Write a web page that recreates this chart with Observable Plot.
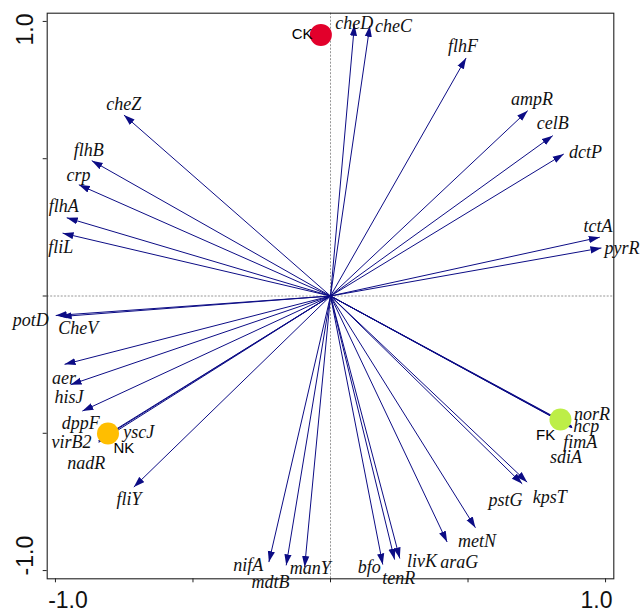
<!DOCTYPE html>
<html>
<head>
<meta charset="utf-8">
<script src="https://cdn.jsdelivr.net/npm/d3@7"></script>
<script src="https://cdn.jsdelivr.net/npm/@observablehq/plot@0.6"></script>
<style>
  html, body { margin: 0; padding: 0; background: #fff; }
  #chart svg { display: block; overflow: visible; }
</style>
</head>
<body>
<div id="chart"></div>
<script>
// ---- data: arrow tips (loadings) ----
const genes = ["cheZ","flhB","crp","flhA","fliL","cheD","cheC","flhF","ampR","celB","dctP","tctA","pyrR",
  "potD","CheV","aer","hisJ","dppF","virB2","yscJ","nadR","fliY","nifA","mdtB","manY","bfo","tenR","livK",
  "araG","metN","pstG","kpsT","norR","hcp","fimA","sdiA"];
const tipX = [-0.751,-0.868,-0.915,-0.959,-0.974,0.087,0.143,0.493,0.717,0.808,0.848,0.979,0.985,
  -0.999,-0.981,-0.967,-0.945,-0.902,-0.844,-0.839,-0.843,-0.715,-0.224,-0.161,-0.094,0.190,0.233,0.252,
  0.424,0.527,0.697,0.715,0.878,0.879,0.877,0.878];
const tipY = [0.659,0.493,0.405,0.285,0.229,0.988,0.984,0.867,0.675,0.584,0.517,0.214,0.175,
  -0.071,-0.075,-0.249,-0.323,-0.419,-0.528,-0.522,-0.533,-0.696,-0.969,-0.981,-0.987,-0.978,-0.960,-0.956,
  -0.896,-0.844,-0.684,-0.678,-0.475,-0.479,-0.477,-0.480];
// label anchor points (data units)
const labelX = [-0.752,-0.879,-0.916,-0.970,-0.981,0.086,0.229,0.482,0.733,0.808,0.927,0.973,1.060,
  -1.090,-0.917,-0.969,-0.951,-0.908,-0.942,-0.697,-0.888,-0.733,-0.299,-0.218,-0.074,0.141,0.248,0.333,
  0.468,0.533,0.636,0.797,0.951,0.930,0.908,0.856];
const labelY = [0.700,0.531,0.440,0.326,0.176,0.992,0.984,0.908,0.718,0.629,0.523,0.254,0.175,
  -0.089,-0.119,-0.298,-0.368,-0.465,-0.532,-0.496,-0.608,-0.742,-0.981,-1.041,-0.991,-0.987,-1.029,-0.966,
  -0.969,-0.892,-0.744,-0.732,-0.431,-0.475,-0.532,-0.587];

// ---- sample groups ----
const groups = ["CK","NK","FK"];
const groupX = [-0.035,-0.809,0.836];
const groupY = [0.951,-0.501,-0.450];
const groupLabelX = [-0.103,-0.751,0.782];
const groupLabelY = [0.952,-0.556,-0.508];
const groupColors = ["#E2002B","#FFBE00","#BDEE47"];

// ---- axes ----
const ticks = [-1,-0.5,0,0.5,1];
const DOMAIN = [-1.03, 1.03];

const geneData = genes.map((g,i) => ({g, x: tipX[i], y: tipY[i], lx: labelX[i], ly: labelY[i]}));
const groupData = groups.map((g,i) => ({g, x: groupX[i], y: groupY[i], lx: groupLabelX[i], ly: groupLabelY[i], c: groupColors[i]}));

function headMarker(color) {
  const ns = "http://www.w3.org/2000/svg";
  const m = document.createElementNS(ns, "marker");
  m.setAttribute("viewBox", "-11 -4 11 8");
  m.setAttribute("markerWidth", 11);
  m.setAttribute("markerHeight", 8);
  m.setAttribute("markerUnits", "userSpaceOnUse");
  m.setAttribute("refX", 0);
  m.setAttribute("refY", 0);
  m.setAttribute("orient", "auto");
  const p = document.createElementNS(ns, "path");
  p.setAttribute("d", "M0,0L-11,-3.6L-11,3.6Z");
  p.setAttribute("fill", color);
  p.setAttribute("stroke", "none");
  m.appendChild(p);
  return m;
}

const serif = "'Liberation Serif','Times New Roman',serif";
const sans = "'Liberation Sans',Arial,sans-serif";

const chart = Plot.plot({
  width: 644,
  height: 613,
  marginLeft: 46.7,
  marginRight: 30.7,
  marginTop: 12.7,
  marginBottom: 34.7,
  x: {domain: DOMAIN, axis: null},
  y: {domain: DOMAIN, axis: null},
  style: {background: "white", overflow: "visible"},
  marks: [
    Plot.ruleX([0], {stroke: "#8a8a8a", strokeWidth: 0.9, strokeDasharray: "2,1.5"}),
    Plot.ruleY([0], {stroke: "#8a8a8a", strokeWidth: 0.9, strokeDasharray: "2,1.5"}),
    Plot.frame({stroke: "#222", strokeWidth: 1.1}),
    Plot.axisX(ticks, {anchor: "bottom", tickSize: 4, tickFormat: () => "", stroke: "#222"}),
    Plot.axisY(ticks, {anchor: "left", tickSize: 4, tickFormat: () => "", stroke: "#222"}),
    Plot.text([-1], {x: d => d, frameAnchor: "bottom", textAnchor: "middle", lineAnchor: "middle", text: d => d.toFixed(1), fontSize: 23, fontFamily: sans, fill: "#111", dx: 12.5, dy: 22}),
    Plot.text([1], {x: d => d, frameAnchor: "bottom", textAnchor: "middle", lineAnchor: "middle", text: d => d.toFixed(1), fontSize: 23, fontFamily: sans, fill: "#111", dx: -9, dy: 22}),
    Plot.text([1], {y: d => d, frameAnchor: "left", rotate: -90, textAnchor: "middle", lineAnchor: "middle", text: d => d.toFixed(1), fontSize: 23, fontFamily: sans, fill: "#111", dx: -21.8, dy: 8}),
    Plot.text([-1], {y: d => d, frameAnchor: "left", rotate: -90, textAnchor: "middle", lineAnchor: "middle", text: d => d.toFixed(1), fontSize: 23, fontFamily: sans, fill: "#111", dx: -21.8, dy: -15}),
    Plot.link(geneData, {x1: d => 0, y1: d => 0, x2: "x", y2: "y", stroke: "#0c0c85", strokeWidth: 1, markerEnd: headMarker}),
    Plot.dot(groupData, {x: "x", y: "y", r: 11, fill: "c", stroke: "none"}),
    Plot.text(groupData, {x: "lx", y: "ly", text: "g", fontSize: 15, fontFamily: sans, fill: "#000"}),
    Plot.text(geneData, {x: "lx", y: "ly", text: "g", fontSize: 18, fontFamily: serif, fontStyle: "italic", fill: "#111"})
  ]
});

document.getElementById("chart").appendChild(chart);
</script>
</body>
</html>
